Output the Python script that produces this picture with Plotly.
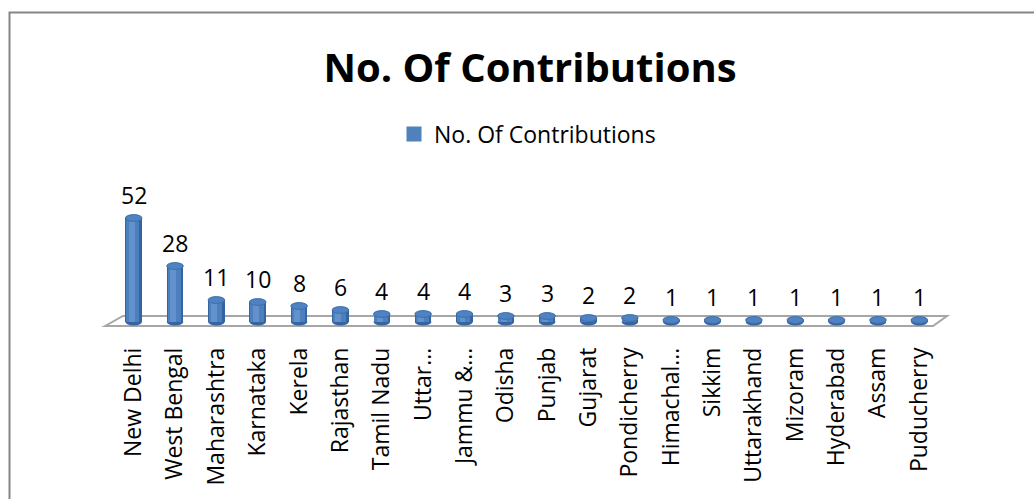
import plotly.graph_objects as go

# ---- data ----
categories = ["New Delhi", "West Bengal", "Maharashtra", "Karnataka", "Kerela",
              "Rajasthan", "Tamil Nadu", "Uttar...", "Jammu &...", "Odisha",
              "Punjab", "Gujarat", "Pondicherry", "Himachal...", "Sikkim",
              "Uttarakhand", "Mizoram", "Hyderabad", "Assam", "Puducherry"]
contributions = [52, 28, 11, 10, 8, 6, 4, 4, 4, 3, 3, 2, 2, 1, 1, 1, 1, 1, 1, 1]
series_name = "No. Of Contributions"
title_text = "No. Of Contributions"

# ---- layout geometry (pixels) ----
W_FIG, H_FIG = 1034, 499
L, PW = 113, 827
T, PH = 200, 128
Y_MIN, Y_MAX = -3, 61
FONT = "Open Sans, Noto Sans, DejaVu Sans, sans-serif"


def px_x(px):
    return (px - L) / PW


def px_y(py):
    return (T + PH - py) / PH


x_idx = list(range(len(categories)))
BW = 0.40

fig = go.Figure()
# dark body (edges of cylinder)
fig.add_trace(go.Bar(x=x_idx, y=contributions, width=BW, offset=-BW / 2,
                     marker=dict(color="#3565A0", line=dict(width=0)),
                     showlegend=False, hoverinfo="skip"))
# main body
fig.add_trace(go.Bar(x=x_idx, y=contributions, width=0.32, offset=-0.18,
                     marker=dict(color="#4C7FBE", line=dict(width=0)),
                     name=series_name, showlegend=False))
# highlight
fig.add_trace(go.Bar(x=x_idx, y=contributions, width=0.14, offset=-0.12,
                     marker=dict(color="#6391CB", line=dict(width=0)),
                     showlegend=False, hoverinfo="skip"))
# legend entry
fig.add_trace(go.Scatter(x=[None], y=[None], name=series_name, mode="markers",
                         marker=dict(symbol="square", size=15, color="#4F81BD",
                                     line=dict(width=0)),
                         showlegend=True))

shapes = []
# outer frame
shapes.append(dict(type="rect", xref="paper", yref="paper",
                   x0=px_x(9.5), x1=px_x(1060), y0=px_y(12.5), y1=px_y(520),
                   line=dict(color="#868686", width=2), fillcolor="rgba(0,0,0,0)",
                   layer="below"))
# floor
fx = [105, 123, 947, 933]
fy = [326, 316, 316, 326]
path = "M {} {} L {} {} L {} {} L {} {} Z".format(
    *[v for p in zip([px_x(a) for a in fx], [px_y(b) for b in fy]) for v in p])
shapes.append(dict(type="path", xref="paper", yref="paper", path=path,
                   line=dict(color="#A6A6A6", width=2), fillcolor="white",
                   layer="below"))
# cylinder bottoms and tops
for i, v in zip(x_idx, contributions):
    shapes.append(dict(type="circle", xref="x", yref="y",
                       x0=i - BW / 2, x1=i + BW / 2, y0=-1.7, y1=1.7,
                       fillcolor="#3565A0", line=dict(width=0), layer="below"))
    shapes.append(dict(type="circle", xref="x", yref="y",
                       x0=i - BW / 2, x1=i + BW / 2, y0=v - 1.7, y1=v + 1.7,
                       fillcolor="#4F82C2", line=dict(color="#3F6FAB", width=1),
                       layer="above"))

annotations = []
for i, v in zip(x_idx, contributions):
    annotations.append(dict(x=i, y=v, xref="x", yref="y", text=str(v),
                            showarrow=False, yanchor="middle", yshift=23,
                            font=dict(family=FONT, size=23, color="#000000")))

fig.update_layout(
    width=W_FIG, height=H_FIG,
    margin=dict(l=L, r=W_FIG - L - PW, t=T, b=H_FIG - T - PH, pad=0),
    paper_bgcolor="white", plot_bgcolor="white",
    barmode="overlay", bargap=0,
    title=dict(text="<b>" + title_text + "</b>", x=530 / W_FIG, xanchor="center",
               y=1 - 68 / H_FIG, yanchor="middle",
               font=dict(family=FONT, size=40, color="#000000")),
    legend=dict(orientation="h", x=px_x(394), xanchor="left",
                y=px_y(134), yanchor="middle",
                font=dict(family=FONT, size=23, color="#000000"),
                bgcolor="rgba(0,0,0,0)"),
    xaxis=dict(range=[-0.5, len(categories) - 0.5], tickmode="array",
               tickvals=x_idx, ticktext=categories, tickangle=-90,
               showgrid=False, zeroline=False, showline=False, ticks="",
               ticklabelstandoff=14,
               tickfont=dict(family=FONT, size=23, color="#000000")),
    yaxis=dict(range=[Y_MIN, Y_MAX], visible=False, showgrid=False,
               zeroline=False),
    shapes=shapes,
    annotations=annotations,
    showlegend=True,
)

fig.write_html("out.html")
